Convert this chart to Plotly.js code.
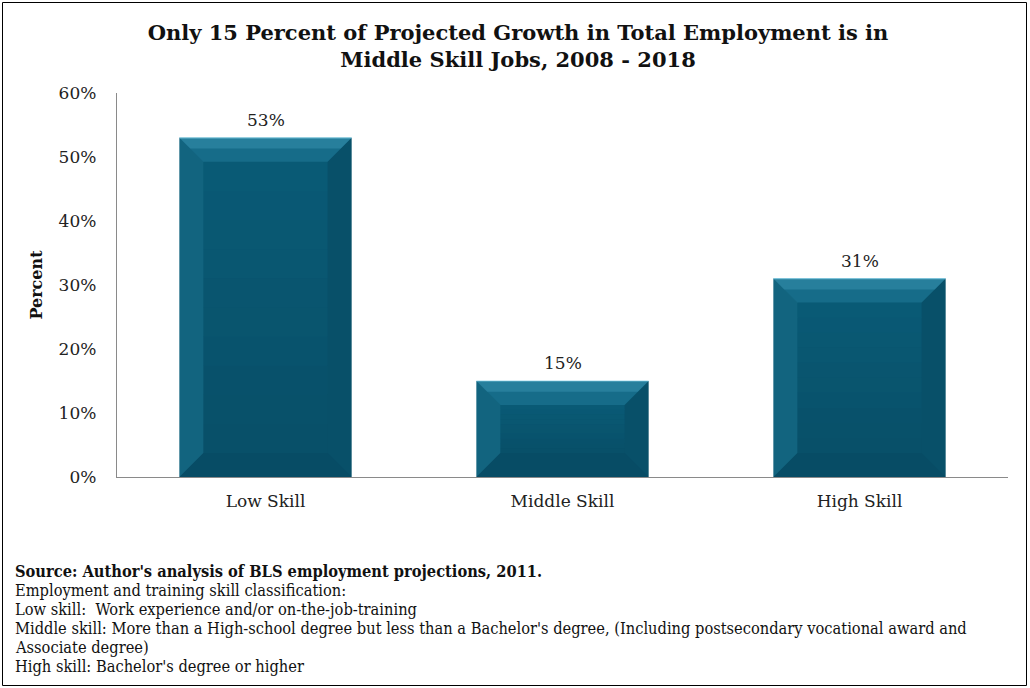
<!DOCTYPE html>
<html>
<head>
<meta charset="utf-8">
<script src="https://cdn.plot.ly/plotly-3.0.1.min.js"></script>
<style>
html,body{margin:0;padding:0;background:#fff;}
#chart{width:1030px;height:688px;}
</style>
</head>
<body>
<div id="chart"></div>
<script>
// ---- data ----
const categories = ["Low Skill", "Middle Skill", "High Skill"];
const values = [53, 15, 31];
const titleText = "Only 15 Percent of Projected Growth in Total Employment is in<br>Middle Skill Jobs, 2008 - 2018";
const yTitle = "Percent";
const noteLines = [
  "<b>Source: Author's analysis of BLS employment projections, 2011.</b>",
  "Employment and training skill classification:",
  "Low skill:  Work experience and/or on-the-job-training",
  "Middle skill: More than a High-school degree but less than a Bachelor's degree, (Including postsecondary vocational award and",
  "Associate degree)",
  "High skill: Bachelor's degree or higher"
];

// ---- layout geometry ----
const W = 1030, H = 688;
const mL = 117, mR = 22, mT = 93, mB = 211;
const pw = W - mL - mR, ph = H - mT - mB;
const px2x = p => (p - mL) / pw;
const py2y = p => (H - mB - p) / ph;
const SERIF = "'DejaVu Serif', 'Liberation Serif', serif";
const NOTE = "'DejaVu Serif Condensed', 'Liberation Serif', serif";

const xIdx = categories.map((c, i) => i);
const barW = 0.58;

const trace = {
  type: "bar",
  x: xIdx,
  y: values,
  width: barW,
  marker: {color: "#0a5b76", line: {width: 0}},
  hoverinfo: "skip"
};

// bevel shapes derived from bar values
const dx = 24 / (pw / 3);
const dy = 24 / (ph / 60);
const shapes = [];
values.forEach((v, i) => {
  const x0 = i - barW / 2, x1 = i + barW / 2;
  const b = Math.min(dy, v / 2);
  const bx = Math.min(dx, barW / 2);
  const P = pts => "M" + pts.map(p => p[0] + "," + p[1]).join("L") + "Z";
  const steps = 10;
  for (let s = 0; s < steps; s++) {
    const ya = b + (v - 2 * b) * s / steps, yb = b + (v - 2 * b) * (s + 1) / steps;
    const t = 1 - (s + 0.5) / steps;
    shapes.push({type: "rect", xref: "x", yref: "y", x0: x0 + bx, x1: x1 - bx, y0: ya, y1: yb,
      fillcolor: "rgba(0,20,35," + (0.16 * t).toFixed(3) + ")", line: {width: 0}, layer: "above"});
  }
  shapes.push({type: "path", xref: "x", yref: "y", path: P([[x0, v], [x0 + bx, v - b], [x0 + bx, b], [x0, 0]]),
    fillcolor: "rgba(80,170,200,0.12)", line: {width: 0}, layer: "above"});
  shapes.push({type: "path", xref: "x", yref: "y", path: P([[x1, v], [x1 - bx, v - b], [x1 - bx, b], [x1, 0]]),
    fillcolor: "rgba(0,25,40,0.16)", line: {width: 0}, layer: "above"});
  shapes.push({type: "path", xref: "x", yref: "y", path: P([[x0, 0], [x1, 0], [x1 - bx, b], [x0 + bx, b]]),
    fillcolor: "rgba(0,25,40,0.22)", line: {width: 0}, layer: "above"});
  shapes.push({type: "path", xref: "x", yref: "y", path: P([[x0, v], [x1, v], [x1 - bx, v - b], [x0 + bx, v - b]]),
    fillcolor: "rgba(70,170,205,0.22)", line: {width: 0}, layer: "above"});
  const b2 = b * 0.45, bx2 = bx * 0.45;
  shapes.push({type: "path", xref: "x", yref: "y", path: P([[x0, v], [x1, v], [x1 - bx2, v - b2], [x0 + bx2, v - b2]]),
    fillcolor: "rgba(90,185,215,0.25)", line: {width: 0}, layer: "above"});
  shapes.push({type: "line", xref: "x", yref: "y", x0: x0, x1: x1, y0: v, y1: v,
    line: {color: "rgba(130,205,228,0.7)", width: 1.2}, layer: "above"});
});

// outer border
shapes.push({type: "rect", xref: "paper", yref: "paper",
  x0: px2x(2.5), x1: px2x(1026.5), y0: py2y(685.5), y1: py2y(2.5),
  line: {color: "#000", width: 1}, fillcolor: "rgba(0,0,0,0)", layer: "below"});

// value labels above bars
const annotations = values.map((v, i) => ({
  xref: "x", yref: "y", x: i, y: v, yshift: 18,
  text: v + "%", showarrow: false,
  font: {family: SERIF, size: 17, color: "#222"}
}));

// footnote, one line each
noteLines.forEach((t, k) => {
  annotations.push({
    xref: "paper", yref: "paper",
    x: px2x(13), y: py2y(571 + 19 * k),
    xanchor: "left", yanchor: "middle", align: "left",
    showarrow: false, text: t,
    font: {family: NOTE, size: 16.3, color: "#111"}
  });
});

const layout = {
  width: W, height: H,
  margin: {l: mL, r: mR, t: mT, b: mB, pad: 0},
  paper_bgcolor: "#fff",
  plot_bgcolor: "#fff",
  showlegend: false,
  font: {family: SERIF, color: "#222"},
  title: {
    text: "<b>" + titleText + "</b>",
    font: {family: SERIF, size: 21, color: "#111"},
    x: 518 / W, xref: "container", xanchor: "center",
    y: 1 - 40 / H, yref: "container", yanchor: "middle"
  },
  xaxis: {
    range: [-0.5, 2.5],
    tickvals: xIdx,
    ticktext: categories,
    showgrid: false, zeroline: false,
    showline: true, linecolor: "#8a8a8a", linewidth: 1.2,
    ticks: "", ticklabelstandoff: 8,
    tickfont: {family: SERIF, size: 17, color: "#222"},
    fixedrange: true
  },
  yaxis: {
    range: [0, 60],
    dtick: 10,
    ticksuffix: "%",
    showgrid: false, zeroline: false,
    showline: true, linecolor: "#8a8a8a", linewidth: 1.2,
    ticks: "", ticklabelstandoff: 16,
    tickfont: {family: SERIF, size: 17, color: "#222"},
    title: {text: "<b>" + yTitle + "</b>", font: {family: SERIF, size: 16, color: "#111"}, standoff: 12},
    fixedrange: true
  },
  shapes: shapes,
  annotations: annotations
};

Plotly.newPlot("chart", [trace], layout, {displayModeBar: false, staticPlot: true});
</script>
</body>
</html>
